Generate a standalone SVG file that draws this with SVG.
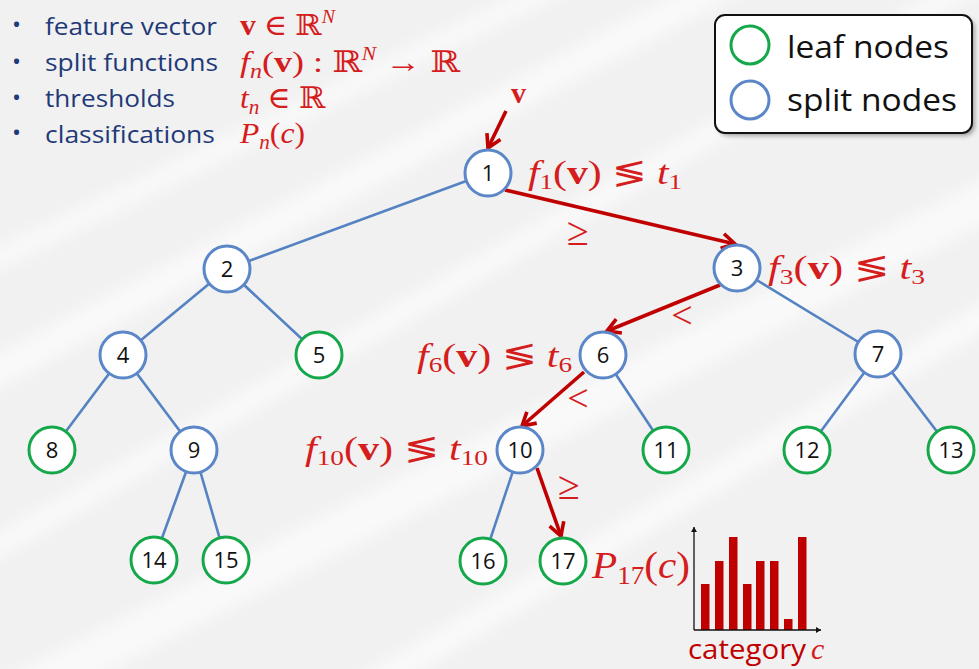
<svg xmlns="http://www.w3.org/2000/svg" width="979" height="669" viewBox="0 0 979 669">
<defs>
<style>
.edge{stroke:#5482c2;stroke-width:2.6;fill:none}
.red{stroke:#c00000;stroke-width:3.6;fill:none;marker-end:url(#ah)}
.split{fill:#fff;stroke:#5b87c8;stroke-width:3}
.leaf{fill:#fff;stroke:#14a84a;stroke-width:3}
.lbl{font-family:"Open Sans","Liberation Sans",sans-serif;font-size:22px;fill:#111;text-anchor:middle}
.math{font-family:"Liberation Serif","DejaVu Serif",serif;fill:#d51d1d}
.it{font-style:italic}
.bul{font-family:"Open Sans","Liberation Sans",sans-serif;font-size:24px;fill:#1f3a78}
.leg{font-family:"Open Sans","Liberation Sans",sans-serif;font-size:31px;fill:#111}
.bar{fill:#c00000}
</style>
<marker id="ah" markerUnits="userSpaceOnUse" viewBox="-16 -10 20 20" refX="0" refY="0" markerWidth="20" markerHeight="20" orient="auto">
<path d="M-13,-7.5 L0,0 L-13,7.5" fill="none" stroke="#c00000" stroke-width="3.6" stroke-linejoin="miter"/>
</marker>
<marker id="ax" markerUnits="userSpaceOnUse" viewBox="-6 -4 8 8" refX="0" refY="0" markerWidth="8" markerHeight="8" orient="auto">
<path d="M-5,-3 L0,0 L-5,3 Z" fill="#111"/>
</marker>
<filter id="blur" x="-20%" y="-20%" width="140%" height="140%"><feGaussianBlur stdDeviation="8"/></filter>
<filter id="sh" x="-10%" y="-10%" width="130%" height="130%"><feGaussianBlur stdDeviation="2"/></filter>
</defs>

<rect width="979" height="669" fill="#f1f1f1"/>
<g filter="url(#blur)" fill="#ffffff" opacity="0.6">
<rect x="-200" y="120" width="1400" height="30" transform="rotate(-28 490 330)"/>
<rect x="-200" y="260" width="1400" height="22" transform="rotate(-30 490 330)"/>
<rect x="-200" y="420" width="1400" height="40" transform="rotate(-27 490 330)"/>
<rect x="-200" y="560" width="1400" height="26" transform="rotate(-31 490 330)"/>
<rect x="-200" y="40" width="1400" height="20" transform="rotate(-26 490 330)"/>
</g>

<g id="bullets">
<text class="bul" x="12" y="33" font-size="20">•</text>
<text class="bul" x="12" y="70" font-size="20">•</text>
<text class="bul" x="12" y="106" font-size="20">•</text>
<text class="bul" x="12" y="141" font-size="20">•</text>
<text class="bul" x="45" y="35" textLength="172" lengthAdjust="spacingAndGlyphs">feature vector</text>
<text class="bul" x="45" y="71" textLength="173" lengthAdjust="spacingAndGlyphs">split functions</text>
<text class="bul" x="45" y="107" textLength="130" lengthAdjust="spacingAndGlyphs">thresholds</text>
<text class="bul" x="45" y="143" textLength="170" lengthAdjust="spacingAndGlyphs">classifications</text>
<text class="math" x="240" y="35" font-size="29" textLength="95" lengthAdjust="spacingAndGlyphs"><tspan font-weight="bold">v</tspan> ∈ ℝ<tspan class="it" font-size="18" dy="-12">N</tspan></text>
<text class="math" x="240" y="72" font-size="30" textLength="220" lengthAdjust="spacingAndGlyphs"><tspan class="it">f</tspan><tspan class="it" font-size="20" dy="6">n</tspan><tspan dy="-6">(</tspan><tspan font-weight="bold">v</tspan>) : ℝ<tspan class="it" font-size="18" dy="-12">N</tspan><tspan dy="12"> → ℝ</tspan></text>
<text class="math" x="240" y="108" font-size="30" textLength="85" lengthAdjust="spacingAndGlyphs"><tspan class="it">t</tspan><tspan class="it" font-size="20" dy="6">n</tspan><tspan dy="-6"> ∈ ℝ</tspan></text>
<text class="math" x="240" y="143" font-size="30" textLength="65" lengthAdjust="spacingAndGlyphs"><tspan class="it">P</tspan><tspan class="it" font-size="20" dy="6">n</tspan><tspan dy="-6">(</tspan><tspan class="it">c</tspan>)</text>
</g>

<g id="legend">
<rect x="718" y="18" width="257" height="118" rx="10" fill="#555" opacity="0.5" filter="url(#sh)"/>
<rect x="715" y="15" width="257" height="118" rx="10" fill="#fff" stroke="#111" stroke-width="2"/>
<circle class="leaf" cx="750" cy="45" r="19"/>
<circle class="split" cx="750" cy="100" r="19"/>
<text class="leg" x="787" y="58" textLength="162" lengthAdjust="spacingAndGlyphs">leaf nodes</text>
<text class="leg" x="787" y="111" textLength="170" lengthAdjust="spacingAndGlyphs">split nodes</text>
</g>

<g id="connectors">
<line class="edge" x1="488" y1="173" x2="227" y2="269"/>
<line class="edge" x1="227" y1="269" x2="123" y2="355"/>
<line class="edge" x1="227" y1="269" x2="319" y2="355"/>
<line class="edge" x1="123" y1="355" x2="52" y2="450"/>
<line class="edge" x1="123" y1="355" x2="194" y2="450"/>
<line class="edge" x1="194" y1="450" x2="154" y2="560"/>
<line class="edge" x1="194" y1="450" x2="226" y2="560"/>
<line class="edge" x1="737" y1="268" x2="878" y2="354"/>
<line class="edge" x1="878" y1="354" x2="807" y2="450"/>
<line class="edge" x1="878" y1="354" x2="951" y2="450"/>
<line class="edge" x1="603" y1="355" x2="666" y2="450"/>
<line class="edge" x1="520" y1="450" x2="483" y2="561"/>
<line class="red" x1="506" y1="111" x2="488" y2="148"/>
<line class="red" x1="505" y1="190" x2="735" y2="244"/>
<line class="red" x1="720" y1="285" x2="607" y2="331"/>
<line class="red" x1="584" y1="372" x2="522" y2="426"/>
<line class="red" x1="537" y1="468" x2="561" y2="536"/>
</g>

<g id="n1"><circle class="split" cx="488" cy="173" r="23"/><text class="lbl" x="488" y="181">1</text></g>
<g id="n2"><circle class="split" cx="227" cy="269" r="23"/><text class="lbl" x="227" y="277">2</text></g>
<g id="n3"><circle class="split" cx="737" cy="268" r="23"/><text class="lbl" x="737" y="276">3</text></g>
<g id="n4"><circle class="split" cx="123" cy="355" r="23"/><text class="lbl" x="123" y="363">4</text></g>
<g id="n5"><circle class="leaf" cx="319" cy="355" r="23"/><text class="lbl" x="319" y="363">5</text></g>
<g id="n6"><circle class="split" cx="603" cy="355" r="23"/><text class="lbl" x="603" y="363">6</text></g>
<g id="n7"><circle class="split" cx="878" cy="354" r="23"/><text class="lbl" x="878" y="362">7</text></g>
<g id="n8"><circle class="leaf" cx="52" cy="450" r="23"/><text class="lbl" x="52" y="458">8</text></g>
<g id="n9"><circle class="split" cx="194" cy="450" r="23"/><text class="lbl" x="194" y="458">9</text></g>
<g id="n10"><circle class="split" cx="520" cy="450" r="23"/><text class="lbl" x="520" y="458">10</text></g>
<g id="n11"><circle class="leaf" cx="666" cy="450" r="23"/><text class="lbl" x="666" y="458">11</text></g>
<g id="n12"><circle class="leaf" cx="807" cy="450" r="23"/><text class="lbl" x="807" y="458">12</text></g>
<g id="n13"><circle class="leaf" cx="951" cy="450" r="23"/><text class="lbl" x="951" y="458">13</text></g>
<g id="n14"><circle class="leaf" cx="154" cy="560" r="23"/><text class="lbl" x="154" y="568">14</text></g>
<g id="n15"><circle class="leaf" cx="226" cy="560" r="23"/><text class="lbl" x="226" y="568">15</text></g>
<g id="n16"><circle class="leaf" cx="483" cy="561" r="23"/><text class="lbl" x="483" y="569">16</text></g>
<g id="n17"><circle class="leaf" cx="563" cy="561" r="23"/><text class="lbl" x="563" y="569">17</text></g>

<g id="labels">
<text class="math" x="511" y="103" font-size="30" font-weight="bold" fill="#c00000">v</text>
<text class="math" x="528" y="184" font-size="34" textLength="154" lengthAdjust="spacingAndGlyphs"><tspan class="it">f</tspan><tspan font-size="22" dy="5">1</tspan><tspan dy="-5">(</tspan><tspan font-weight="bold">v</tspan>) ≶ <tspan class="it">t</tspan><tspan font-size="22" dy="5">1</tspan></text>
<text class="math" x="768" y="279" font-size="34" textLength="157" lengthAdjust="spacingAndGlyphs"><tspan class="it">f</tspan><tspan font-size="22" dy="5">3</tspan><tspan dy="-5">(</tspan><tspan font-weight="bold">v</tspan>) ≶ <tspan class="it">t</tspan><tspan font-size="22" dy="5">3</tspan></text>
<text class="math" x="417" y="367" font-size="34" textLength="155" lengthAdjust="spacingAndGlyphs"><tspan class="it">f</tspan><tspan font-size="22" dy="5">6</tspan><tspan dy="-5">(</tspan><tspan font-weight="bold">v</tspan>) ≶ <tspan class="it">t</tspan><tspan font-size="22" dy="5">6</tspan></text>
<text class="math" x="305" y="460" font-size="34" textLength="183" lengthAdjust="spacingAndGlyphs"><tspan class="it">f</tspan><tspan font-size="22" dy="5">10</tspan><tspan dy="-5">(</tspan><tspan font-weight="bold">v</tspan>) ≶ <tspan class="it">t</tspan><tspan font-size="22" dy="5">10</tspan></text>
<text class="math" x="578" y="245" font-size="40" text-anchor="middle">≥</text>
<text class="math" x="682" y="328" font-size="38" text-anchor="middle">&lt;</text>
<text class="math" x="578" y="411" font-size="38" text-anchor="middle">&lt;</text>
<text class="math" x="569" y="499" font-size="40" text-anchor="middle">≥</text>
<text class="math" x="592" y="578" font-size="38" textLength="98" lengthAdjust="spacingAndGlyphs"><tspan class="it">P</tspan><tspan font-size="25" dy="6">17</tspan><tspan dy="-6">(</tspan><tspan class="it">c</tspan>)</text>
</g>

<g id="chart">
<rect class="bar" x="701" y="584" width="8.5" height="46"/>
<rect class="bar" x="715" y="561" width="8.5" height="69"/>
<rect class="bar" x="729" y="537" width="8.5" height="93"/>
<rect class="bar" x="743" y="584" width="8.5" height="46"/>
<rect class="bar" x="756" y="561" width="8.5" height="69"/>
<rect class="bar" x="770" y="561" width="8.5" height="69"/>
<rect class="bar" x="784" y="619" width="8.5" height="11"/>
<rect class="bar" x="798" y="537" width="8.5" height="93"/>
<line x1="694" y1="630" x2="694" y2="527" stroke="#111" stroke-width="1.3" marker-end="url(#ax)"/>
<line x1="694" y1="630" x2="821" y2="630" stroke="#111" stroke-width="1.3" marker-end="url(#ax)"/>
<text x="688" y="659" font-family="Open Sans, Liberation Sans, sans-serif" font-size="27" fill="#c00000" textLength="118" lengthAdjust="spacingAndGlyphs">category</text>
<text class="math it" x="811" y="659" font-size="30" fill="#c00000">c</text>
</g>
</svg>
